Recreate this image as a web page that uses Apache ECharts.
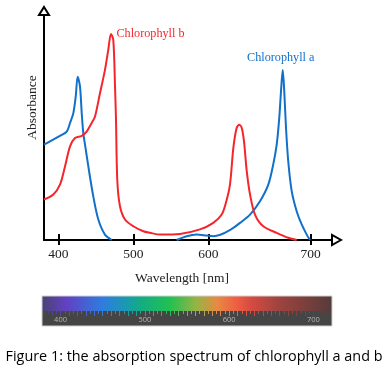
<!DOCTYPE html>
<html><head><meta charset="utf-8">
<script src="https://cdn.jsdelivr.net/npm/echarts@6/dist/echarts.min.js"></script>
<style>html,body{margin:0;padding:0;background:#fff}#c{width:388px;height:371px}</style>
</head><body><div id="c"></div>
<script>
// ---- data (wavelength in nm as labelled, absorbance in arbitrary units) ----
const chlAWavelength = [381, 402.3, 411.3, 415.7, 420.1, 423.3, 425.9, 429.0, 431.3, 433.4, 435.7, 440.1, 446.7, 453.4, 462.3, 471.3, 515,
  557.9, 571.3, 584.6, 597.9, 604.9, 614.7, 624.5, 631.0, 640.8, 650.5, 658.6, 663.4, 666.8, 669.3, 671.0, 672.7, 674.2, 675.9, 678.1, 681.5, 686.3, 691.2, 696.1, 699.3];
const chlAAbsorbance = [0.424, 0.463, 0.482, 0.520, 0.564, 0.638, 0.726, 0.682, 0.564, 0.475, 0.424, 0.327, 0.194, 0.091, 0.024, 0.0, null,
  0.0, 0.017, 0.024, 0.020, 0.017, 0.029, 0.054, 0.076, 0.113, 0.172, 0.246, 0.335, 0.424, 0.542, 0.660, 0.756, 0.660, 0.498, 0.349, 0.216, 0.128, 0.069, 0.024, 0.0];
const chlBWavelength = [381, 393.4, 402.3, 409.0, 415.7, 422.3, 431.3, 437.9, 444.6, 449.0, 455.7, 462.3, 466.7, 470.3, 473.4, 475.7, 477.0, 478.7, 482.3, 489.0, 500.1, 513.4, 522.3, 535.7, 562.3, 589.0,
  604.9, 613.1, 617.5, 621.2, 624.5, 627.7, 630.3, 632.7, 634.9, 637.6, 640.8, 645.6, 653.7, 666.8, 678.1, 686.4];
const chlBAbsorbance = [0.180, 0.202, 0.246, 0.327, 0.416, 0.453, 0.463, 0.482, 0.520, 0.549, 0.653, 0.756, 0.845, 0.916, 0.889, 0.682, 0.534, 0.268, 0.150, 0.091, 0.061, 0.039, 0.032, 0.024, 0.027, 0.047,
  0.076, 0.113, 0.170, 0.246, 0.409, 0.498, 0.512, 0.498, 0.438, 0.305, 0.202, 0.113, 0.061, 0.032, 0.010, 0.0];
const tickWavelengths = [400, 500, 600, 700];
const tickLabels = ['400', '500', '600', '700'];
const spectrumLabelValues = [400, 500, 600, 700];
const seriesNames = ['Chlorophyll a', 'Chlorophyll b'];
const axisNames = ['Wavelength [nm]', 'Absorbance'];
const captionText = 'Figure 1: the absorption spectrum of chlorophyll a and b';

// the figure's wavelength axis is drawn wider above 600 nm
function toAxis(nm) { return nm <= 600 ? nm : 600 + (nm - 600) * 1.366; }

function build(xs, ys) { return xs.map((x, i) => [toAxis(x), ys[i] == null ? null : ys[i]]); }
function peak(xs, ys) { let k = 0; ys.forEach((v, i) => { if (v != null && v > ys[k]) k = i; }); return [toAxis(xs[k]), ys[k]]; }

const BLUE = '#1170c9', RED = '#f4262c';
const serif = '"Liberation Serif","Times New Roman",serif';
const tickAxisVals = tickWavelengths.map(toAxis);
const spectrumStops = [
  [0, '#4b4276'], [0.086, '#6142c4'], [0.21, '#2e7ddf'], [0.286, '#1a98b4'], [0.338, '#12ac84'], [0.441, '#22c052'],
  [0.534, '#98b444'], [0.603, '#e68a42'], [0.672, '#ee5e42'], [0.724, '#d44a42'], [0.81, '#a2443f'], [1, '#553b3b']
].map(s => ({offset: s[0], color: s[1]}));
const majorSpec = [], minorSpec = [];
for (let v = 390; v <= 730; v += 5) { (v % 10 === 0 ? majorSpec : minorSpec).push(v); }
const tickGrad = () => new echarts.graphic.LinearGradient(42, 0, 332, 0, spectrumStops, true);

const MAIN = {left: 44, right: 56, top: 15, bottom: 131};
const SPEC = {left: 42, width: 290, top: 296, height: 15};

const chart = echarts.init(document.getElementById('c'));
chart.setOption({
  animation: false,
  backgroundColor: '#fff',
  title: {text: captionText, left: 'center', top: 350, padding: 0,
    textStyle: {fontFamily: '"Open Sans",sans-serif', fontSize: 14.4, fontWeight: 'normal', color: '#000'}},
  graphic: [
    {type: 'rect', z: -10, shape: {x: 42, y: 296, width: 290, height: 15},
      style: {fill: new echarts.graphic.LinearGradient(0, 0, 1, 0, spectrumStops)}},
    {type: 'rect', z: -10, shape: {x: 42, y: 311, width: 290, height: 15}, style: {fill: '#454545'}},
    {type: 'rect', z: -9, shape: {x: 42, y: 296, width: 290, height: 30}, style: {fill: 'none', stroke: '#d0d0d0', lineWidth: 1}}
  ],
  grid: [
    Object.assign({}, MAIN),
    Object.assign({}, MAIN),
    Object.assign({}, SPEC),
    Object.assign({}, SPEC)
  ],
  xAxis: [
    {type: 'value', gridIndex: 0, min: 381, max: 765, position: 'bottom',
      axisLine: {show: true, lineStyle: {color: '#000', width: 2}, symbol: ['none', 'emptyTriangle'], symbolSize: [10, 9], symbolOffset: [0, 4.5]},
      axisTick: {show: true, customValues: tickAxisVals, length: 5, lineStyle: {color: '#000', width: 2}},
      axisLabel: {show: true, customValues: tickAxisVals, margin: 7, fontFamily: serif, fontSize: 13.5, color: '#222',
        formatter: v => { let k = 0; tickAxisVals.forEach((t, i) => { if (Math.abs(t - v) < Math.abs(tickAxisVals[k] - v)) k = i; }); return tickLabels[k]; }},
      splitLine: {show: false},
      name: axisNames[0], nameLocation: 'middle', nameGap: 31,
      nameTextStyle: {fontFamily: serif, fontSize: 13.5, color: '#222', padding: [0, 12, 0, 0]}},
    {type: 'value', gridIndex: 1, min: 381, max: 765, position: 'bottom',
      axisLine: {show: false},
      axisTick: {show: true, inside: true, customValues: tickAxisVals, length: 6, lineStyle: {color: '#000', width: 2}},
      axisLabel: {show: false}, splitLine: {show: false}},
    {type: 'value', gridIndex: 2, min: 388, max: 732, position: 'bottom', z: 5,
      axisLine: {show: false},
      axisTick: {show: true, inside: false, customValues: majorSpec, length: 5, lineStyle: {width: 1, color: tickGrad()}},
      axisLabel: {show: true, customValues: spectrumLabelValues, margin: 5, align: 'left', padding: [0, 0, 0, 2],
        fontFamily: '"Open Sans",sans-serif', fontSize: 7.5, color: '#b4b4b4'},
      splitLine: {show: false}},
    {type: 'value', gridIndex: 3, min: 388, max: 732, position: 'bottom', z: 5,
      axisLine: {show: false},
      axisTick: {show: true, inside: false, customValues: minorSpec, length: 3, lineStyle: {width: 1, color: tickGrad()}},
      axisLabel: {show: false}, splitLine: {show: false}}
  ],
  yAxis: [
    {type: 'value', gridIndex: 0, min: 0, max: 1,
      axisLine: {show: true, lineStyle: {color: '#000', width: 2}, symbol: ['none', 'emptyTriangle'], symbolSize: [10, 8], symbolOffset: [0, 4]},
      axisTick: {show: false}, axisLabel: {show: false}, splitLine: {show: false},
      name: axisNames[1], nameLocation: 'middle', nameGap: 5,
      nameTextStyle: {fontFamily: serif, fontSize: 13.5, color: '#222', padding: [0, 0, 0, 40]}},
    {type: 'value', gridIndex: 1, show: false, min: 0, max: 1},
    {type: 'value', gridIndex: 2, show: false, min: 0, max: 1},
    {type: 'value', gridIndex: 3, show: false, min: 0, max: 1}
  ],
  series: [
    {name: seriesNames[0], type: 'line', xAxisIndex: 0, yAxisIndex: 0, data: build(chlAWavelength, chlAAbsorbance),
      smooth: 0.3, showSymbol: false, connectNulls: false, lineStyle: {color: BLUE, width: 2}, itemStyle: {color: BLUE},
      markPoint: {symbol: 'circle', symbolSize: 1, itemStyle: {color: 'rgba(0,0,0,0)'},
        data: [{coord: peak(chlAWavelength, chlAAbsorbance),
          label: {show: true, position: 'top', distance: 6, offset: [-2, 0], formatter: seriesNames[0], color: BLUE, fontFamily: serif, fontSize: 12.2}}]}},
    {name: seriesNames[1], type: 'line', xAxisIndex: 0, yAxisIndex: 0, data: build(chlBWavelength, chlBAbsorbance),
      smooth: 0.3, showSymbol: false, lineStyle: {color: RED, width: 2}, itemStyle: {color: RED},
      markPoint: {symbol: 'circle', symbolSize: 1, itemStyle: {color: 'rgba(0,0,0,0)'},
        data: [{coord: peak(chlBWavelength, chlBAbsorbance),
          label: {show: true, position: 'right', distance: 5, formatter: seriesNames[1], color: RED, fontFamily: serif, fontSize: 12.2}}]}}
  ]
});
</script></body></html>
